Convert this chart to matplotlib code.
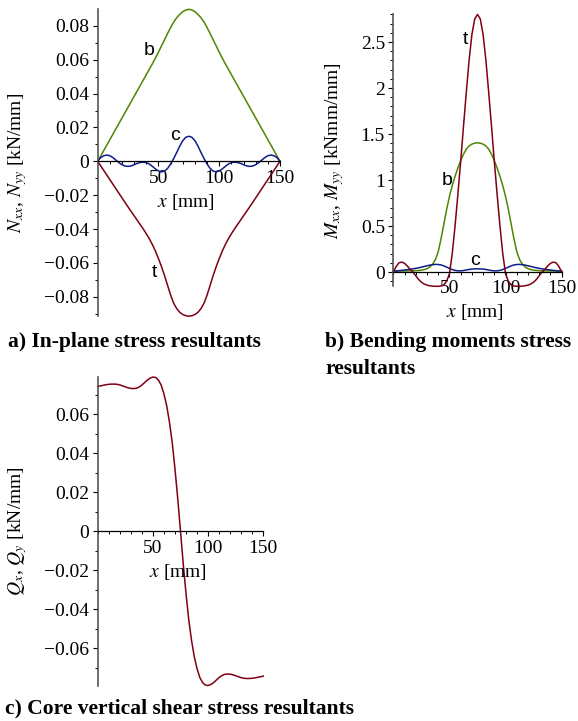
"""Sandwich panel stress resultants along x: in-plane, bending and core shear."""

import matplotlib

matplotlib.use("Agg")
import matplotlib.pyplot as plt
import numpy as np
from matplotlib.ticker import FixedLocator, FuncFormatter, MultipleLocator

plt.rcParams["font.family"] = "serif"
plt.rcParams["font.serif"] = ["Liberation Serif", "DejaVu Serif"]
plt.rcParams["mathtext.fontset"] = "stix"

# sampling positions along the panel [mm]
x_mm = np.arange(0, 150.1, 2.5)

# a) in-plane stress resultants [kN/mm]
nxx_b = [0.0, 0.0032, 0.0064, 0.0096, 0.0128, 0.0160, 0.0192, 0.0224, 0.0256, 0.0288, 0.0320,
         0.0352, 0.0384, 0.0416, 0.0448, 0.0480, 0.0512, 0.0544, 0.0576, 0.0610, 0.0645, 0.0682,
         0.0718, 0.0755, 0.0790, 0.0822, 0.0848, 0.0868, 0.0884, 0.0894, 0.0898, 0.0894, 0.0884,
         0.0868, 0.0848, 0.0822, 0.0790, 0.0755, 0.0718, 0.0682, 0.0645, 0.0610, 0.0576, 0.0544,
         0.0512, 0.0480, 0.0448, 0.0416, 0.0384, 0.0352, 0.0320, 0.0288, 0.0256, 0.0224, 0.0192,
         0.0160, 0.0128, 0.0096, 0.0064, 0.0032, 0.0]
nxx_t = [0.0, -0.0027, -0.0054, -0.0081, -0.0108, -0.0135, -0.0162, -0.0189, -0.0216, -0.0243,
         -0.0270, -0.0296, -0.0322, -0.0348, -0.0374, -0.0400, -0.0428, -0.0458, -0.0492, -0.0530,
         -0.0575, -0.0622, -0.0675, -0.0733, -0.0790, -0.0838, -0.0870, -0.0892, -0.0905, -0.0912,
         -0.0915, -0.0912, -0.0905, -0.0892, -0.0870, -0.0838, -0.0790, -0.0733, -0.0675, -0.0622,
         -0.0575, -0.0530, -0.0492, -0.0458, -0.0428, -0.0400, -0.0374, -0.0348, -0.0322, -0.0296,
         -0.0270, -0.0243, -0.0216, -0.0189, -0.0162, -0.0135, -0.0108, -0.0081, -0.0054, -0.0027,
         0.0]
nxx_c = [0.0, 0.0022, 0.0033, 0.0037, 0.0033, 0.0022, 0.0007, -0.0008, -0.0020, -0.0028, -0.0030,
         -0.0027, -0.0020, -0.0012, -0.0007, -0.0005, -0.0008, -0.0016, -0.0030, -0.0045, -0.0057,
         -0.0062, -0.0058, -0.0042, -0.0016, 0.0016, 0.0052, 0.0090, 0.0122, 0.0142, 0.0148,
         0.0142, 0.0122, 0.0090, 0.0052, 0.0016, -0.0016, -0.0042, -0.0058, -0.0062, -0.0057,
         -0.0045, -0.0030, -0.0016, -0.0008, -0.0005, -0.0007, -0.0012, -0.0020, -0.0027, -0.0030,
         -0.0028, -0.0020, -0.0008, 0.0007, 0.0022, 0.0033, 0.0037, 0.0033, 0.0022, 0.0]

# b) bending moments [kNmm/mm]
mxx_t = [0.0, 0.06, 0.10, 0.108, 0.095, 0.065, 0.03, 0.0, -0.04, -0.08, -0.11, -0.13, -0.142,
         -0.149, -0.153, -0.155, -0.155, -0.152, -0.14, -0.10, -0.02, 0.20, 0.50, 0.84, 1.20, 1.58,
         1.95, 2.30, 2.58, 2.75, 2.80, 2.75, 2.58, 2.30, 1.95, 1.58, 1.20, 0.84, 0.50, 0.20, -0.02,
         -0.10, -0.14, -0.152, -0.155, -0.155, -0.153, -0.149, -0.142, -0.13, -0.11, -0.08, -0.04,
         0.0, 0.03, 0.065, 0.095, 0.108, 0.10, 0.06, 0.0]
mxx_b = [0.010, 0.010, 0.011, 0.011, 0.012, 0.012, 0.013, 0.014, 0.015, 0.017, 0.020, 0.026, 0.036,
         0.055, 0.085, 0.135, 0.22, 0.36, 0.52, 0.68, 0.82, 0.94, 1.04, 1.13, 1.21, 1.28, 1.335,
         1.37, 1.39, 1.40, 1.405, 1.40, 1.39, 1.37, 1.335, 1.28, 1.21, 1.13, 1.04, 0.94, 0.82, 0.68,
         0.52, 0.36, 0.22, 0.135, 0.085, 0.055, 0.036, 0.026, 0.020, 0.017, 0.015, 0.014, 0.013,
         0.012, 0.012, 0.011, 0.011, 0.010, 0.010]
mxx_c = [0.010, 0.012, 0.015, 0.018, 0.022, 0.026, 0.030, 0.035, 0.040, 0.046, 0.053, 0.061, 0.068,
         0.075, 0.080, 0.083, 0.082, 0.077, 0.067, 0.054, 0.040, 0.027, 0.018, 0.013, 0.013, 0.016,
         0.022, 0.028, 0.032, 0.034, 0.035, 0.034, 0.032, 0.028, 0.022, 0.016, 0.013, 0.013, 0.018,
         0.027, 0.040, 0.054, 0.067, 0.077, 0.082, 0.083, 0.080, 0.075, 0.068, 0.061, 0.053, 0.046,
         0.040, 0.035, 0.030, 0.026, 0.022, 0.018, 0.015, 0.012, 0.010]

# c) core vertical shear [kN/mm]
qx = [0.0743, 0.0746, 0.0749, 0.0752, 0.0754, 0.0755, 0.0755, 0.0754, 0.0751, 0.0746, 0.0741,
      0.0736, 0.0733, 0.0732, 0.0734, 0.0740, 0.0750, 0.0763, 0.0776, 0.0786, 0.0791, 0.0789,
      0.0776, 0.0750, 0.0705, 0.0644, 0.0560, 0.0455, 0.0320, 0.0168, 0.0, -0.0168, -0.0320,
      -0.0455, -0.0560, -0.0644, -0.0705, -0.0750, -0.0776, -0.0789, -0.0791, -0.0786, -0.0776,
      -0.0763, -0.0750, -0.0740, -0.0734, -0.0732, -0.0733, -0.0736, -0.0741, -0.0746, -0.0751,
      -0.0754, -0.0755, -0.0755, -0.0754, -0.0752, -0.0749, -0.0746, -0.0743]

RED = "#7d0014"
GREEN = "#4f8500"
BLUE = "#0d1c8a"

FIG_W, FIG_H = 578, 721


def px_box(left, right, top, bottom):
    """Axes rectangle from pixel edges of the reference picture."""
    return [left / FIG_W, 1 - bottom / FIG_H, (right - left) / FIG_W, (bottom - top) / FIG_H]


def tick_fmt(v, _pos):
    return f"{round(v, 6) + 0:g}".replace("-", "\u2212")


def style_axes(ax, y_major, y_minor, ylabel, ylabel_offset):
    ax.spines["left"].set_position(("data", 0))
    ax.spines["bottom"].set_position(("data", 0))
    ax.spines["top"].set_visible(False)
    ax.spines["right"].set_visible(False)
    ax.spines["left"].set_color("#555555")
    ax.spines["left"].set_linewidth(1.2)
    ax.spines["bottom"].set_linewidth(0.9)
    ax.patch.set_visible(False)

    ax.xaxis.set_major_locator(FixedLocator([50, 100, 150]))
    ax.xaxis.set_minor_locator(MultipleLocator(10))
    ax.yaxis.set_major_locator(MultipleLocator(y_major))
    ax.yaxis.set_minor_locator(MultipleLocator(y_minor))
    ax.xaxis.set_major_formatter(FuncFormatter(tick_fmt))
    ax.yaxis.set_major_formatter(FuncFormatter(tick_fmt))
    ax.tick_params(which="major", direction="out", length=3.5, width=0.8, labelsize=14, pad=2.5)
    ax.tick_params(which="minor", direction="out", length=2.0, width=0.7)
    ax.set_xlim(0, 150)

    ax.annotate("$x$ [mm]", xy=(73, 0), xycoords="data", xytext=(0, -29),
                textcoords="offset points", ha="center", va="center", fontsize=14)
    ax.annotate(ylabel, xy=(0, 0.5), xycoords="axes fraction", xytext=(ylabel_offset, 0),
                textcoords="offset points", ha="center", va="center", rotation=90, fontsize=14)


fig = plt.figure(figsize=(FIG_W / 100, FIG_H / 100), dpi=100)

# a) in-plane
ax_a = fig.add_axes(px_box(97.7, 280.0, 9.3, 316.2))
ax_a.plot(x_mm, nxx_b, color=GREEN, lw=1.1, clip_on=False)
ax_a.plot(x_mm, nxx_t, color=RED, lw=1.1, clip_on=False)
ax_a.plot(x_mm, nxx_c, color=BLUE, lw=1.1, clip_on=False)
ax_a.set_ylim(min(nxx_t), max(nxx_b))
style_axes(ax_a, 0.02, 0.01, "$N_{xx}$, $N_{yy}$ [kN/mm]", -57.4)
for txt, tx, ty in [("b", 42.6, 0.0657), ("c", 63.6, 0.0155), ("t", 46.3, -0.0654)]:
    ax_a.text(tx, ty, txt, family="Liberation Sans", fontsize=14, ha="center", va="center")

# b) bending moments
ax_b = fig.add_axes(px_box(393.3, 561.7, 14.4, 286.3))
ax_b.plot(x_mm, mxx_b, color=GREEN, lw=1.1, clip_on=False)
ax_b.plot(x_mm, mxx_c, color=BLUE, lw=1.1, clip_on=False)
ax_b.plot(x_mm, mxx_t, color=RED, lw=1.1, clip_on=False)
ax_b.set_ylim(min(mxx_t), max(mxx_t))
style_axes(ax_b, 0.5, 0.1, "$M_{xx}$, $M_{yy}$ [kNmm/mm]", -42.0)
for txt, tx, ty in [("t", 63.9, 2.53), ("b", 47.6, 1.0), ("c", 72.5, 0.13)]:
    ax_b.text(tx, ty, txt, family="Liberation Sans", fontsize=14, ha="center", va="center")

# c) core shear
ax_c = fig.add_axes(px_box(97.7, 263.3, 377.1, 685.5))
ax_c.plot(x_mm, qx, color=RED, lw=1.1, clip_on=False)
ax_c.set_ylim(min(qx), max(qx))
style_axes(ax_c, 0.02, 0.01, "$Q_x$, $Q_y$ [kN/mm]", -57.4)

cap = dict(fontsize=15.5, weight="bold", va="top", ha="left")
fig.text(8 / FIG_W, 1 - 332 / FIG_H, "a) In-plane stress resultants", **cap)
fig.text(325 / FIG_W, 1 - 332 / FIG_H, "b) Bending moments stress\nresultants", linespacing=1.5, **cap)
fig.text(5 / FIG_W, 1 - 698 / FIG_H, "c) Core vertical shear stress resultants", **cap)

fig.savefig("out.png", dpi=100)
